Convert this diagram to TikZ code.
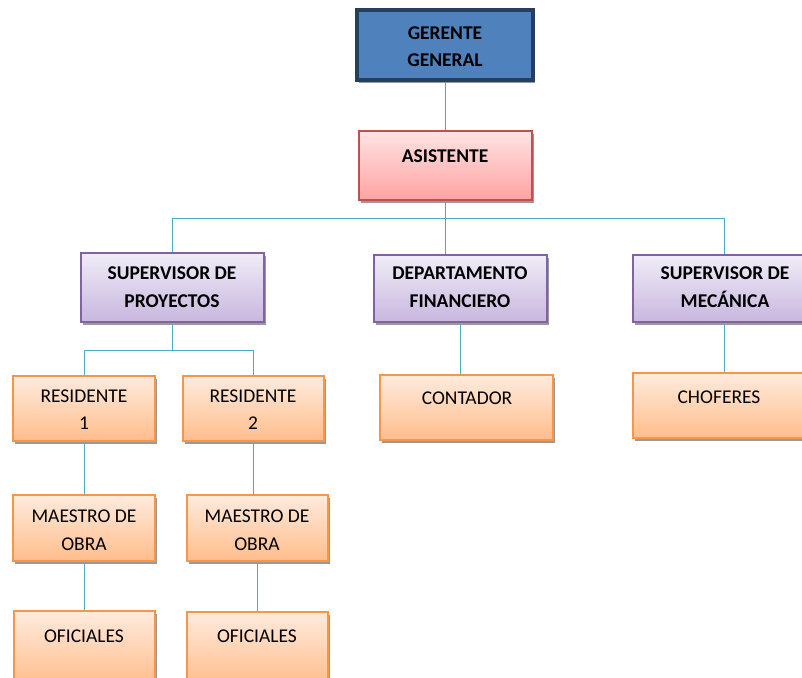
\documentclass[tikz,border=0pt]{standalone}
\usepackage{fontspec}
\setmainfont{Carlito}
\usetikzlibrary{shadows,backgrounds}
\definecolor{gfill}{HTML}{4F81BD}
\definecolor{gdraw}{HTML}{243F60}
\definecolor{rtop}{HTML}{FFE3E3}
\definecolor{rbot}{HTML}{FFA2A2}
\definecolor{rdraw}{HTML}{C0504D}
\definecolor{ptop}{HTML}{F0ECF7}
\definecolor{pbot}{HTML}{C8B7DF}
\definecolor{pdraw}{HTML}{8064A2}
\definecolor{otop}{HTML}{FFEBDD}
\definecolor{obot}{HTML}{FFBD8C}
\definecolor{odraw}{HTML}{F79646}
\definecolor{conncol}{HTML}{4BACC6}
\tikzset{
  boxbase/.style={rectangle, inner sep=0pt, outer sep=0pt,
    drop shadow={shadow xshift=2pt, shadow yshift=-3pt, fill=black!40, opacity=1}},
  bluebox/.style={boxbase, fill=gfill, draw=gdraw, line width=3.5pt},
  redbox/.style={boxbase, top color=rtop, bottom color=rbot, draw=rdraw, line width=1.2pt},
  purplebox/.style={boxbase, top color=ptop, bottom color=pbot, draw=pdraw, line width=1.2pt},
  orangebox/.style={boxbase, top color=otop, bottom color=obot, draw=odraw, line width=1.2pt},
  boldtxt/.style={font=\fontsize{19.5}{27.5}\selectfont\bfseries, align=center, inner sep=0pt},
  plaintxt/.style={font=\fontsize{19.5}{27.5}\selectfont, align=center, inner sep=0pt},
  conn/.style={draw=conncol, line width=1pt}
}
\begin{document}
\begin{tikzpicture}[x=1pt,y=-1pt]
\useasboundingbox (0,0) rectangle (802,677);
% boxes
\node[bluebox, minimum width=176pt, minimum height=70pt] (G) at (445,45) {};
\node[redbox, minimum width=173pt, minimum height=69pt] (A) at (445.5,165.5) {};
\node[purplebox, minimum width=183pt, minimum height=69pt] (SP) at (172.5,287.5) {};
\node[purplebox, minimum width=173pt, minimum height=67pt] (DF) at (460.5,288.5) {};
\node[purplebox, minimum width=182pt, minimum height=67pt] (SM) at (724,288.5) {};
\node[orangebox, minimum width=142pt, minimum height=65pt] (R1) at (84,408.5) {};
\node[orangebox, minimum width=141pt, minimum height=65pt] (R2) at (253.5,408.5) {};
\node[orangebox, minimum width=142pt, minimum height=66pt] (M1) at (84,528) {};
\node[orangebox, minimum width=141pt, minimum height=66pt] (M2) at (257.5,528) {};
\node[orangebox, minimum width=141pt, minimum height=74pt] (O1) at (84.5,648) {};
\node[orangebox, minimum width=141pt, minimum height=73pt] (O2) at (257.5,648.5) {};
\node[orangebox, minimum width=173pt, minimum height=65pt] (C) at (466.5,407.5) {};
\node[orangebox, minimum width=182pt, minimum height=65pt] (CH) at (724,405.5) {};
% texts
\node[boldtxt] (Gt) at (445,46.5) {GERENTE\\GENERAL};
\node[boldtxt, anchor=base] (At) at (445,162.5) {ASISTENTE};
\node[boldtxt] (SPt) at (172,287) {SUPERVISOR DE\\PROYECTOS};
\node[boldtxt] (DFt) at (460,287) {DEPARTAMENTO\\FINANCIERO};
\node[boldtxt] (SMt) at (725,287) {SUPERVISOR DE\\MECÁNICA};
\node[plaintxt] (R1t) at (84,409.5) {RESIDENTE\\1};
\node[plaintxt] (R2t) at (253,409.5) {RESIDENTE\\2};
\node[plaintxt] (M1t) at (84,530) {MAESTRO DE\\OBRA};
\node[plaintxt] (M2t) at (257,530) {MAESTRO DE\\OBRA};
\node[plaintxt, anchor=base] (O1t) at (84,642.5) {OFICIALES};
\node[plaintxt, anchor=base] (O2t) at (257,642.5) {OFICIALES};
\node[plaintxt, anchor=base] (Ct) at (467,404.5) {CONTADOR};
\node[plaintxt, anchor=base] (CHt) at (719,403.5) {CHOFERES};
% connectors
\coordinate (bar) at (447,218);
\coordinate (bar2) at (169,350);
\begin{scope}[on background layer]
\draw[conn] (G.south) -- (G.south |- A.north);
\draw[conn] (A.south) -- (A.south |- DF.north);
\draw[conn] (SP.north |- bar) -- (SM.north |- bar);
\draw[conn] (SP.north |- bar) -- (SP.north);
\draw[conn] (SM.north |- bar) -- (SM.north);
\draw[conn] (SP.south) -- (SP.south |- bar2);
\draw[conn] (R1.north |- bar2) -- (R2.north |- bar2);
\draw[conn] (R1.north |- bar2) -- (R1.north);
\draw[conn] (R2.north |- bar2) -- (R2.north);
\draw[conn] (R1.south) -- (R1.south |- M1.north);
\draw[conn] (R2.south) -- (R2.south |- M2.north);
\draw[conn] (M1.south) -- (M1.south |- O1.north);
\draw[conn] (M2.south) -- (M2.south |- O2.north);
\draw[conn] (DF.south) -- (DF.south |- C.north);
\draw[conn] (SM.south) -- (SM.south |- CH.north);
\end{scope}
\end{tikzpicture}
\end{document}
